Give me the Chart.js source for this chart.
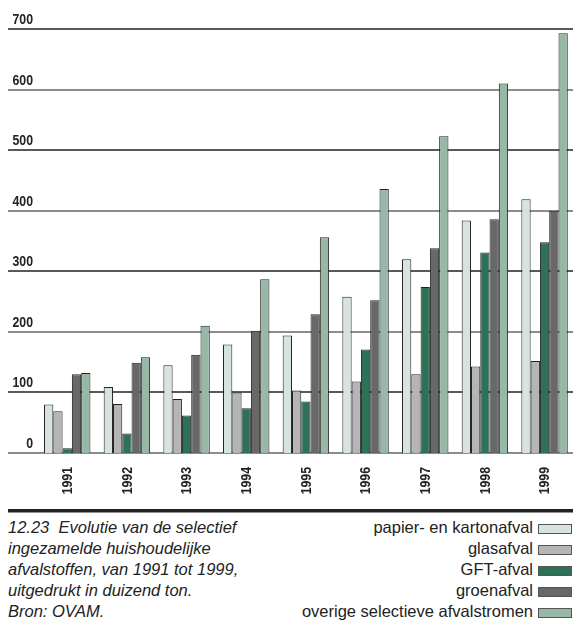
<!DOCTYPE html>
<html>
<head>
<meta charset="utf-8">
<script src="https://cdn.jsdelivr.net/npm/chart.js@4.4.1/dist/chart.umd.min.js"></script>
<style>
  html, body { margin: 0; padding: 0; background: #fff; overflow: hidden; }
  #wrap { position: relative; width: 573px; height: 635px; overflow: hidden; }
  #chart { position: absolute; left: 0; top: 0; }
  .caption {
    position: absolute; left: 8px; top: 517px;
    font: italic 16.5px "Liberation Sans", Arial, sans-serif;
    line-height: 21.1px; color: #222;
  }
  .legend {
    position: absolute; right: 1px; top: 517px;
    font: 16.5px "Liberation Sans", Arial, sans-serif;
    line-height: 21.1px; color: #222; text-align: right;
  }
  .legend div { white-space: nowrap; }
  .legend span.box {
    display: inline-block; width: 32px; height: 8px;
    border: 1px solid #555; margin-left: 5px; vertical-align: -1px;
  }
</style>
</head>
<body>
<div id="wrap">
  <canvas id="chart" width="576" height="515"></canvas>
  <div class="caption">
    12.23&nbsp; Evolutie van de selectief<br>
    ingezamelde huishoudelijke<br>
    afvalstoffen, van 1991 tot 1999,<br>
    uitgedrukt in duizend ton.<br>
    Bron: OVAM.
  </div>
  <div class="legend" id="legend"></div>
</div>
<script>
// Selectief ingezamelde huishoudelijke afvalstoffen (duizend ton)
const years = ['1991', '1992', '1993', '1994', '1995', '1996', '1997', '1998', '1999'];
const papier = [80, 109, 145, 179, 194, 258, 320, 384, 419];
const glas = [69, 81, 89, 100, 103, 118, 130, 143, 152];
const gft = [8, 32, 62, 74, 85, 171, 274, 331, 348];
const groen = [130, 149, 162, 202, 229, 252, 338, 386, 400];
const overige = [132, 158, 210, 287, 356, 436, 523, 610, 693];
const yTicks = [0, 100, 200, 300, 400, 500, 600, 700];

const seriesNames = ['papier- en kartonafval', 'glasafval', 'GFT-afval', 'groenafval', 'overige selectieve afvalstromen'];
const seriesColors = ['#d6e4dd', '#b5b5b8', '#2d7256', '#686868', '#97b8a6'];
const seriesData = [papier, glas, gft, groen, overige];

// no condensed font installed, so squeeze the bold labels a bit
const labelFont = 'bold 15px "Liberation Sans", Arial, sans-serif';
const squeeze = 0.82;

const gridPlugin = {
    id: 'fullGrid',
    beforeDatasetsDraw(chart) {
        const ctx = chart.ctx;
        const y = chart.scales.y;
        ctx.save();
        // grid lines run across the full width, alternating black / grey
        yTicks.forEach((v) => {
            const py = Math.round(y.getPixelForValue(v));
            const even = (v / 100) % 2 === 0;
            ctx.strokeStyle = even ? '#8c8c8c' : '#222';
            ctx.lineWidth = even ? 2 : 1.3;
            ctx.beginPath();
            ctx.moveTo(8, py);
            ctx.lineTo(chart.width, py);
            ctx.stroke();
        });
        // value labels sit on top of their line
        ctx.fillStyle = '#222';
        ctx.font = labelFont;
        ctx.textAlign = 'right';
        ctx.textBaseline = 'alphabetic';
        yTicks.forEach((v) => {
            const py = y.getPixelForValue(v);
            ctx.save();
            ctx.translate(33, py - 5);
            ctx.scale(squeeze, 1);
            ctx.fillText(String(v), 0, 0);
            ctx.restore();
        });
        ctx.restore();
    },
    afterDraw(chart) {
        const ctx = chart.ctx;
        const x = chart.scales.x;
        ctx.save();
        // year labels, rotated, reading upwards
        ctx.fillStyle = '#222';
        ctx.font = labelFont;
        ctx.textAlign = 'right';
        ctx.textBaseline = 'middle';
        years.forEach((yr, i) => {
            ctx.save();
            ctx.translate(x.getPixelForValue(i) + 0.5, 467);
            ctx.rotate(-Math.PI / 2);
            ctx.scale(squeeze, 1);
            ctx.fillText(yr, 0, 0);
            ctx.restore();
        });
        // heavy rule above the caption
        ctx.fillRect(8, 509, chart.width, 3.5);
        ctx.restore();
    }
};

new Chart(document.getElementById('chart').getContext('2d'), {
    type: 'bar',
    data: {
        labels: years,
        datasets: seriesNames.map((name, i) => ({
            label: name,
            data: seriesData[i],
            backgroundColor: seriesColors[i],
            borderColor: '#222',
            borderWidth: 1,
            barPercentage: 1,
            categoryPercentage: 0.778
        }))
    },
    options: {
        responsive: false,
        animation: false,
        layout: { padding: { left: 37.4, right: 1.6, top: 29, bottom: 0 } },
        plugins: {
            legend: { display: false },
            tooltip: { enabled: false }
        },
        scales: {
            x: {
                grid: { display: false, drawTicks: false },
                border: { display: false },
                ticks: { display: false },
                afterFit: (scale) => { scale.height = 62; }
            },
            y: {
                display: false,
                min: 0,
                max: 700
            }
        }
    },
    plugins: [gridPlugin]
});

// legend: text on the left, swatch on the right
const legendEl = document.getElementById('legend');
seriesNames.forEach((name, i) => {
    const row = document.createElement('div');
    row.innerHTML = `${name}<span class="box" style="background:${seriesColors[i]}"></span>`;
    legendEl.appendChild(row);
});
</script>
</body>
</html>
